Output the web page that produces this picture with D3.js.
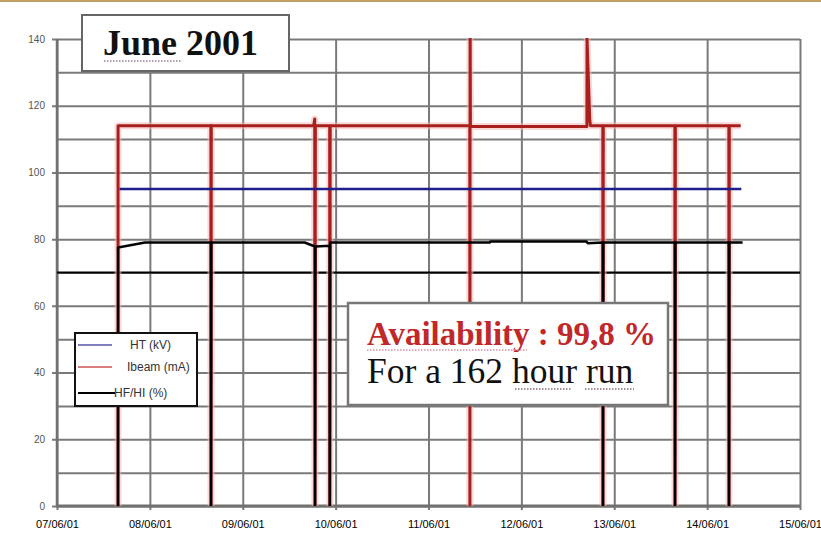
<!DOCTYPE html>
<html>
<head>
<meta charset="utf-8">
<script src="https://cdn.jsdelivr.net/npm/d3@7"></script>
<style>
  html, body { margin: 0; padding: 0; background: #fff; }
  svg { display: block; }
</style>
</head>
<body>
<svg id="chart" width="821" height="541"></svg>
<script>
// ---- data -------------------------------------------------------------
const dayLabels = ["07/06/01","08/06/01","09/06/01","10/06/01","11/06/01",
                   "12/06/01","13/06/01","14/06/01","15/06/01"];
const yTickLabels = [0, 20, 40, 60, 80, 100, 120, 140];

// Beam current (mA) during the run, with each trip to zero
const beamData = [
  ["07/06/01 15:46", 0], ["07/06/01 15:47", 114],
  ["08/06/01 15:46", 114], ["08/06/01 15:48", 0], ["08/06/01 15:52", 114],
  ["09/06/01 18:20", 114], ["09/06/01 18:36", 116], ["09/06/01 18:40", 0], ["09/06/01 18:46", 114],
  ["09/06/01 22:28", 114], ["09/06/01 22:30", 0], ["09/06/01 22:36", 114],
  ["11/06/01 10:40", 114], ["11/06/01 10:42", 0], ["11/06/01 10:45", 150], ["11/06/01 10:50", 113.8],
  ["12/06/01 16:56", 113.8], ["12/06/01 16:58", 140],
  ["12/06/01 17:40", 116], ["12/06/01 17:50", 114],
  ["12/06/01 21:03", 114], ["12/06/01 21:05", 0], ["12/06/01 21:10", 114],
  ["13/06/01 15:40", 114], ["13/06/01 15:42", 0], ["13/06/01 15:48", 114],
  ["14/06/01 05:37", 114], ["14/06/01 05:39", 0], ["14/06/01 05:44", 114],
  ["14/06/01 08:40", 114]
];

// High voltage (kV)
const htData = [
  ["07/06/01 16:10", 95], ["14/06/01 08:50", 95]
];

// HF/HI ratio (%)
const hfData = [
  ["07/06/01 15:46", 0], ["07/06/01 15:47", 77.5], ["07/06/01 22:45", 79],
  ["08/06/01 15:46", 79], ["08/06/01 15:48", 0], ["08/06/01 15:52", 79],
  ["09/06/01 16:00", 79], ["09/06/01 18:40", 77.8], ["09/06/01 18:41", 0], ["09/06/01 18:46", 77.8],
  ["09/06/01 22:28", 78], ["09/06/01 22:30", 0], ["09/06/01 22:36", 79],
  ["11/06/01 15:50", 79], ["11/06/01 16:00", 79.3],
  ["12/06/01 16:50", 79.3], ["12/06/01 17:10", 78.8], ["12/06/01 21:03", 79],
  ["12/06/01 21:05", 0], ["12/06/01 21:10", 79],
  ["13/06/01 15:40", 79], ["13/06/01 15:42", 0], ["13/06/01 15:48", 79],
  ["14/06/01 05:37", 79], ["14/06/01 05:39", 0], ["14/06/01 05:44", 79],
  ["14/06/01 09:10", 79]
];

// Minimum HF/HI level reference
const thresholdValue = 70;

const legendItems = [
  { label: "HT (kV)",    color: "#2a2a9a" },
  { label: "Ibeam (mA)", color: "#c0282a" },
  { label: "HF/HI (%)",  color: "#000000" }
];

// ---- layout -----------------------------------------------------------
const svg = d3.select("#chart");
const parse = d3.timeParse("%d/%m/%y %H:%M");
const parseDay = d3.timeParse("%d/%m/%y");
const toPts = arr => arr.map(([t, v]) => ({ t: parse(t), v }));

const x = d3.scaleTime()
  .domain([parseDay(dayLabels[0]), parseDay(dayLabels[dayLabels.length - 1])])
  .range([57, 800]);
const y = d3.scaleLinear().domain([0, 140]).range([506, 39]);

// thin frame line along the top of the page
svg.append("rect").attr("x", 0).attr("y", 0).attr("width", 821).attr("height", 2)
  .attr("fill", "#bfa065");

svg.append("defs").append("clipPath").attr("id", "plotClip")
  .append("rect").attr("x", 57).attr("y", 38)
  .attr("width", 800 - 57 + 2).attr("height", 506 - 38);

// horizontal grid (every 10) with labels every 20
const yAxis = d3.axisLeft(y)
  .tickValues(d3.range(0, 141, 10))
  .tickSize(-(800 - 57))
  .tickFormat(d => yTickLabels.includes(d) ? d : "");
const gy = svg.append("g").attr("transform", "translate(57,0)").call(yAxis);
gy.select(".domain").remove();
gy.selectAll(".tick line").attr("stroke", "#7a7a7a").attr("stroke-width", 2)
  .attr("x1", d => yTickLabels.includes(d) ? -5 : 0);
gy.selectAll(".tick text")
  .attr("x", -12)
  .attr("font-family", "'Liberation Sans', Arial, sans-serif")
  .attr("font-size", 10).attr("fill", "#555");

// vertical grid (one per day) with date labels
const xAxis = d3.axisBottom(x)
  .tickValues(dayLabels.map(parseDay))
  .tickSize(-(506 - 39))
  .tickFormat((d, i) => dayLabels[i]);
const gx = svg.append("g").attr("transform", "translate(0,506)").call(xAxis);
gx.select(".domain").remove();
gx.selectAll(".tick line").attr("stroke", "#7a7a7a").attr("stroke-width", 2)
  .attr("y1", 4);
gx.selectAll(".tick text")
  .attr("y", 14)
  .attr("font-family", "'Liberation Sans Narrow', 'Arial Narrow', 'Liberation Sans', sans-serif")
  .attr("font-size", 11).attr("fill", "#000");

// axis lines
svg.append("line").attr("x1", 57).attr("x2", 57).attr("y1", 39).attr("y2", 507)
  .attr("stroke", "#707070").attr("stroke-width", 2.5);
svg.append("line").attr("x1", 56).attr("x2", 800).attr("y1", 506).attr("y2", 506)
  .attr("stroke", "#707070").attr("stroke-width", 3);

// reference level
svg.append("line").attr("x1", x.range()[0]).attr("x2", x.range()[1])
  .attr("y1", y(thresholdValue)).attr("y2", y(thresholdValue))
  .attr("stroke", "#000").attr("stroke-width", 2);

// series
const line = d3.line().x(d => x(d.t)).y(d => y(d.v));
const plot = svg.append("g").attr("clip-path", "url(#plotClip)");

plot.append("path").datum(toPts(beamData)).attr("d", line)
  .attr("fill", "none").attr("stroke", "#f4b8b8").attr("stroke-width", 7)
  .attr("stroke-opacity", 0.55).attr("stroke-linejoin", "round");
plot.append("path").datum(toPts(beamData)).attr("d", line)
  .attr("fill", "none").attr("stroke", "#a8201e").attr("stroke-width", 3)
  .attr("stroke-linejoin", "round");

plot.append("path").datum(toPts(htData)).attr("d", line)
  .attr("fill", "none").attr("stroke", "#1e1e8c").attr("stroke-width", 2.5);

plot.append("path").datum(toPts(hfData)).attr("d", line)
  .attr("fill", "none").attr("stroke", "#000").attr("stroke-width", 2.5)
  .attr("stroke-linejoin", "round");

// title box
const title = svg.append("g");
title.append("rect").attr("x", 82).attr("y", 15).attr("width", 207).attr("height", 56)
  .attr("fill", "#fff").attr("stroke", "#666").attr("stroke-width", 2);
title.append("text").attr("x", 103).attr("y", 55)
  .attr("font-family", "'Liberation Serif', 'Times New Roman', serif")
  .attr("font-weight", "bold").attr("font-size", 36).attr("fill", "#111")
  .text("June 2001");
title.append("line").attr("x1", 104).attr("x2", 182).attr("y1", 61).attr("y2", 61)
  .attr("stroke", "#9a7a9a").attr("stroke-width", 1.5).attr("stroke-dasharray", "1.5,1.5");

// availability note
const note = svg.append("g");
note.append("rect").attr("x", 348).attr("y", 303).attr("width", 320).attr("height", 102)
  .attr("fill", "#fff").attr("stroke", "#777").attr("stroke-width", 2.5);
note.append("text").attr("x", 367).attr("y", 345)
  .attr("font-family", "'Liberation Serif', 'Times New Roman', serif")
  .attr("font-weight", "bold").attr("font-size", 33).attr("fill", "#c0282a")
  .text("Availability : 99,8 %");
note.append("text").attr("x", 367).attr("y", 383)
  .attr("font-family", "'Liberation Serif', 'Times New Roman', serif")
  .attr("font-size", 35.5).attr("fill", "#111")
  .text("For a 162 hour run");
note.append("line").attr("x1", 367).attr("x2", 527).attr("y1", 350).attr("y2", 350)
  .attr("stroke", "#d890a8").attr("stroke-width", 1.5).attr("stroke-dasharray", "1.5,1.5");
[[515, 572], [585, 634]].forEach(([a, b]) =>
  note.append("line").attr("x1", a).attr("x2", b).attr("y1", 389).attr("y2", 389)
    .attr("stroke", "#8a6a7a").attr("stroke-width", 1.5).attr("stroke-dasharray", "1.5,1.5"));

// legend
const lg = svg.append("g");
lg.append("rect").attr("x", 75).attr("y", 333).attr("width", 122).attr("height", 73)
  .attr("fill", "#fff").attr("stroke", "#111").attr("stroke-width", 2);
const lgRowY = [345, 367, 393];
const lgTextX = [130, 127, 114];
const lgLineEnd = [112, 112, 115];
legendItems.forEach((it, i) => {
  lg.append("line").attr("x1", 78).attr("x2", lgLineEnd[i])
    .attr("y1", lgRowY[i]).attr("y2", lgRowY[i])
    .attr("stroke", it.color).attr("stroke-width", i === 2 ? 2 : 1.5)
    .attr("stroke-opacity", i === 2 ? 1 : 0.8);
  lg.append("text").attr("x", lgTextX[i]).attr("y", lgRowY[i] + 4)
    .attr("font-family", "'Liberation Sans', Arial, sans-serif")
    .attr("font-size", 12).attr("fill", "#333")
    .text(it.label);
});
</script>
</body>
</html>
